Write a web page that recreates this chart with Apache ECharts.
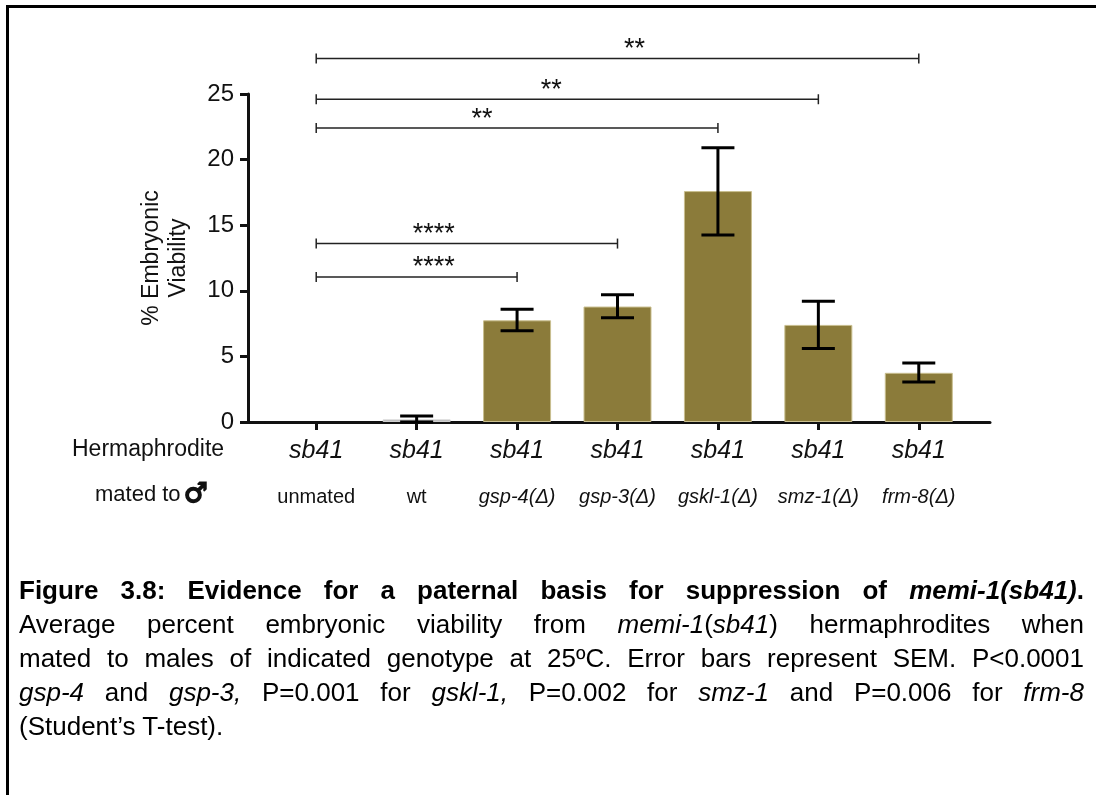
<!DOCTYPE html>
<html>
<head>
<meta charset="utf-8">
<script src="https://cdn.jsdelivr.net/npm/echarts@6/dist/echarts.min.js"></script>
<style>
  body { margin: 0; background: #fff; overflow: hidden; }
  #frame { position: absolute; left: 6px; top: 5px; width: 1100px; height: 800px;
           border-left: 3px solid #000; border-top: 3px solid #000; }
  #chart { position: absolute; left: 0; top: 0; width: 1096px; height: 795px; }
  #caption { position: absolute; left: 19px; top: 573px; width: 1065px;
             font-family: 'Liberation Sans', Arial, sans-serif; font-size: 26px;
             line-height: 34px; color: #000; }
  #caption .j { text-align: justify; text-align-last: justify; white-space: nowrap; }
</style>
</head>
<body>
<div id="frame"></div>
<div id="chart"></div>
<div id="caption">
  <div class="j"><b>Figure 3.8: Evidence for a paternal basis for suppression of <i>memi-1(sb41)</i>.</b></div>
  <div class="j">Average percent embryonic viability from <i>memi-1</i>(<i>sb41</i>) hermaphrodites when</div>
  <div class="j">mated to males of indicated genotype at 25ºC. Error bars represent SEM. P&lt;0.0001</div>
  <div class="j"><i>gsp-4</i> and <i>gsp-3,</i> P=0.001 for <i>gskl-1,</i> P=0.002 for <i>smz-1</i> and P=0.006 for <i>frm-8</i></div>
  <div>(Student’s T-test).</div>
</div>
<script>
// data
const hermLabels = ['sb41', 'sb41', 'sb41', 'sb41', 'sb41', 'sb41', 'sb41'];
const mateLabels = ['unmated', 'wt', 'gsp-4(Δ)', 'gsp-3(Δ)', 'gskl-1(Δ)', 'smz-1(Δ)', 'frm-8(Δ)'];
const viability = [0, 0.2, 7.75, 8.8, 17.6, 7.4, 3.75];
const semLow = [0, 0, 6.95, 7.95, 14.25, 5.6, 3.05];
const semHigh = [0, 0.45, 8.6, 9.7, 20.9, 9.2, 4.5];

// significance brackets (from unmated to target)
const bracketFrom = [0, 0, 0, 0, 0];
const bracketTo = [2, 3, 4, 5, 6];
const bracketY = [11.05, 13.6, 22.4, 24.6, 27.7];
const bracketStars = ['****', '****', '**', '**', '**'];
const starX = [1.17, 1.17, 1.65, 2.34, 3.17];  // in category units

const FONT = "'Liberation Sans', Arial, sans-serif";

window.addEventListener("load", () => {
  let chart = echarts.init(document.getElementById("chart"), null, { renderer: 'canvas' });

  let barData = viability.map((v, i) => {
    if (v === 0) {
      return { value: v, itemStyle: { borderWidth: 0 } };
    }
    if (mateLabels[i] === 'wt') {
      return { value: v, itemStyle: { color: '#b5b5b5', borderColor: '#cfcfcf' } };
    }
    return v;
  });

  let errData = viability.map((v, i) => [i, semLow[i], semHigh[i]]).filter(d => d[2] > 0);
  let bracketData = bracketTo.map((t, i) => [bracketFrom[i], t, bracketY[i], starX[i]]);

  let option = {
    backgroundColor: 'transparent',
    animation: false,
    grid: [
      { left: 248, right: 106, top: 94, bottom: 373 },
      { left: 266, right: 127, top: 94, bottom: 373 }
    ],
    xAxis: [
      {
        type: 'value', gridIndex: 0, min: 0, max: 1,
        axisLine: { show: true, lineStyle: { color: '#111', width: 3 } },
        axisTick: { show: false }, axisLabel: { show: false }, splitLine: { show: false }
      },
      {
        type: 'category', gridIndex: 1, data: mateLabels,
        axisLine: { show: true, lineStyle: { color: '#111', width: 3 } },
        axisTick: { show: true, alignWithLabel: true, length: 8, lineStyle: { color: '#111', width: 3 } },
        axisLabel: {
          interval: 0, margin: 6, color: '#111',
          formatter: (v, i) => {
            let style = (v === 'unmated' || v === 'wt') ? 'c' : 'b';
            return '{a|' + hermLabels[i] + '}\n{' + style + '|' + v + '}';
          },
          rich: {
            a: { fontFamily: FONT, fontSize: 25, fontStyle: 'italic', lineHeight: 46, color: '#111' },
            b: { fontFamily: FONT, fontSize: 20, fontStyle: 'italic', lineHeight: 46, color: '#111' },
            c: { fontFamily: FONT, fontSize: 20, lineHeight: 46, color: '#111' }
          }
        }
      }
    ],
    yAxis: [
      {
        type: 'value', gridIndex: 0, min: 0, max: 25, interval: 5,
        name: '% Embryonic\nViability', nameLocation: 'middle', nameRotate: 90, nameGap: 56,
        nameTextStyle: { fontFamily: FONT, fontSize: 23, lineHeight: 27, color: '#111' },
        axisLine: { show: true, lineStyle: { color: '#111', width: 3 } },
        axisTick: { show: true, length: 8, lineStyle: { color: '#111', width: 3 } },
        axisLabel: { margin: 14, fontFamily: FONT, fontSize: 24, color: '#111' },
        splitLine: { show: false }
      },
      { type: 'value', gridIndex: 1, min: 0, max: 25, show: false }
    ],
    series: [
      {
        type: 'bar', xAxisIndex: 1, yAxisIndex: 1, data: barData, barWidth: 68,
        itemStyle: { color: '#8b7b3a', borderColor: '#c9bf8f', borderWidth: 1 }
      },
      {
        type: 'custom', xAxisIndex: 1, yAxisIndex: 1, data: errData, z: 5,
        renderItem: (params, api) => {
          let lo = api.coord([api.value(0), api.value(1)]);
          let hi = api.coord([api.value(0), api.value(2)]);
          let half = 16.5;
          let st = { stroke: '#000', lineWidth: 3 };
          return {
            type: 'group',
            children: [
              { type: 'line', shape: { x1: lo[0], y1: lo[1], x2: hi[0], y2: hi[1] }, style: st },
              { type: 'line', shape: { x1: hi[0] - half, y1: hi[1], x2: hi[0] + half, y2: hi[1] }, style: st },
              { type: 'line', shape: { x1: lo[0] - half, y1: lo[1], x2: lo[0] + half, y2: lo[1] }, style: st }
            ]
          };
        }
      },
      {
        type: 'custom', xAxisIndex: 1, yAxisIndex: 1, data: bracketData, clip: false, z: 5,
        renderItem: (params, api) => {
          let a = api.coord([api.value(0), api.value(2)]);
          let b = api.coord([api.value(1), api.value(2)]);
          let band = api.size([1, 0])[0];
          let tx = a[0] + (api.value(3) - api.value(0)) * band;
          let st = { stroke: '#222', lineWidth: 1.5 };
          return {
            type: 'group',
            children: [
              { type: 'line', shape: { x1: a[0], y1: a[1], x2: b[0], y2: b[1] }, style: st },
              { type: 'line', shape: { x1: a[0], y1: a[1] - 5, x2: a[0], y2: a[1] + 5 }, style: st },
              { type: 'line', shape: { x1: b[0], y1: b[1] - 5, x2: b[0], y2: b[1] + 5 }, style: st },
              {
                type: 'text',
                style: {
                  x: tx, y: a[1] - 9, text: bracketStars[params.dataIndex],
                  font: '27px ' + FONT, fill: '#111', align: 'center', verticalAlign: 'middle'
                }
              }
            ]
          };
        }
      }
    ],
    graphic: [
      { type: 'text', left: 72, top: 438, style: { text: 'Hermaphrodite', font: '23px ' + FONT, fill: '#111' } },
      { type: 'text', left: 95, top: 484, style: { text: 'mated to', font: '22px ' + FONT, fill: '#111' } },
      { type: 'text', left: 183, top: 481, style: { text: '♂', font: 'bold 27px "DejaVu Sans"', fill: '#111', stroke: '#111', lineWidth: 1.6 } }
    ]
  };

  chart.setOption(option);
  window.addEventListener('resize', chart.resize);
});
</script>
</body>
</html>
